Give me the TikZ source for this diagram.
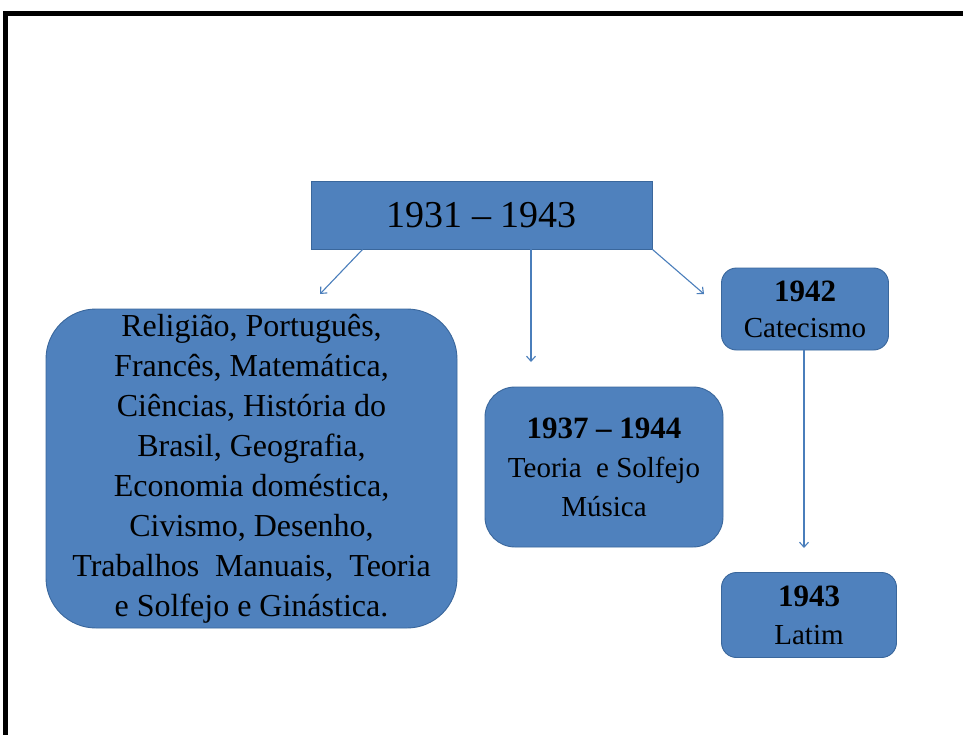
\documentclass[tikz,border=0pt]{standalone}
\usepackage{fontspec}
\setmainfont{Liberation Serif}
\usetikzlibrary{arrows.meta}
\definecolor{boxblue}{HTML}{4F81BD}
\definecolor{boxedge}{HTML}{3A679C}
\definecolor{arrowblue}{HTML}{4A7EBB}
\newcommand{\yrbold}[1]{{\fontsize{31}{38}\selectfont\bfseries #1}}
\tikzset{
  box/.style={draw=boxedge, line width=0.9pt, fill=boxblue, align=center, inner sep=0pt},
  conn/.style={draw=arrowblue, line width=1.1pt, -{Straight Barb[length=5pt,width=9pt]}},
}
\begin{document}
\begin{tikzpicture}[x=1pt,y=-1pt]
\useasboundingbox (0,0) rectangle (963,735);
\fill[white] (0,0) rectangle (963,735);
% frame
\draw[line width=4.5pt, line join=miter] (5.5,740) -- (5.5,13.5) -- (970,13.5);
% nodes
\node[box, minimum width=341pt, minimum height=68pt, font=\fontsize{38}{44}\selectfont] (top) at (481.5,215)
  {1931 – 1943};
\node[box, rounded corners=50pt, minimum width=411pt, minimum height=319pt, font=\fontsize{32}{40}\selectfont] (subj) at (251.5,468.5)
  {Religião, Português,\\ Francês, Matemática,\\ Ciências, História do\\ Brasil, Geografia,\\ Economia doméstica,\\ Civismo, Desenho,\\ Trabalhos\ \ Manuais,\ \ Teoria\\ e Solfejo e Ginástica.};
\node[box, rounded corners=30pt, minimum width=238pt, minimum height=160pt, font=\fontsize{29}{39}\selectfont] (mus) at (604,467)
  {\yrbold{1937 – 1944}\\ Teoria\ \ e Solfejo\\ Música};
\node[box, rounded corners=15pt, minimum width=167pt, minimum height=82pt, font=\fontsize{29}{36}\selectfont] (cat) at (805,309)
  {\yrbold{1942}\\ Catecismo};
\node[box, rounded corners=15pt, minimum width=175pt, minimum height=85pt, font=\fontsize{29}{38}\selectfont] (lat) at (809,615)
  {\yrbold{1943}\\ Latim};
% free arrow ends
\coordinate (e1) at (320,294);
\coordinate (e2) at (531,362);
\coordinate (e3) at (704,294);
\coordinate (e4) at (804,548);
% connectors
\draw[conn] ([xshift=52pt]top.south west) -- (e1);
\draw[conn] ([xshift=49.5pt]top.south) -- (e2);
\draw[conn] (top.south east) -- (e3);
\draw[conn] ([xshift=-1pt]cat.south) -- (e4);
\end{tikzpicture}
\end{document}
